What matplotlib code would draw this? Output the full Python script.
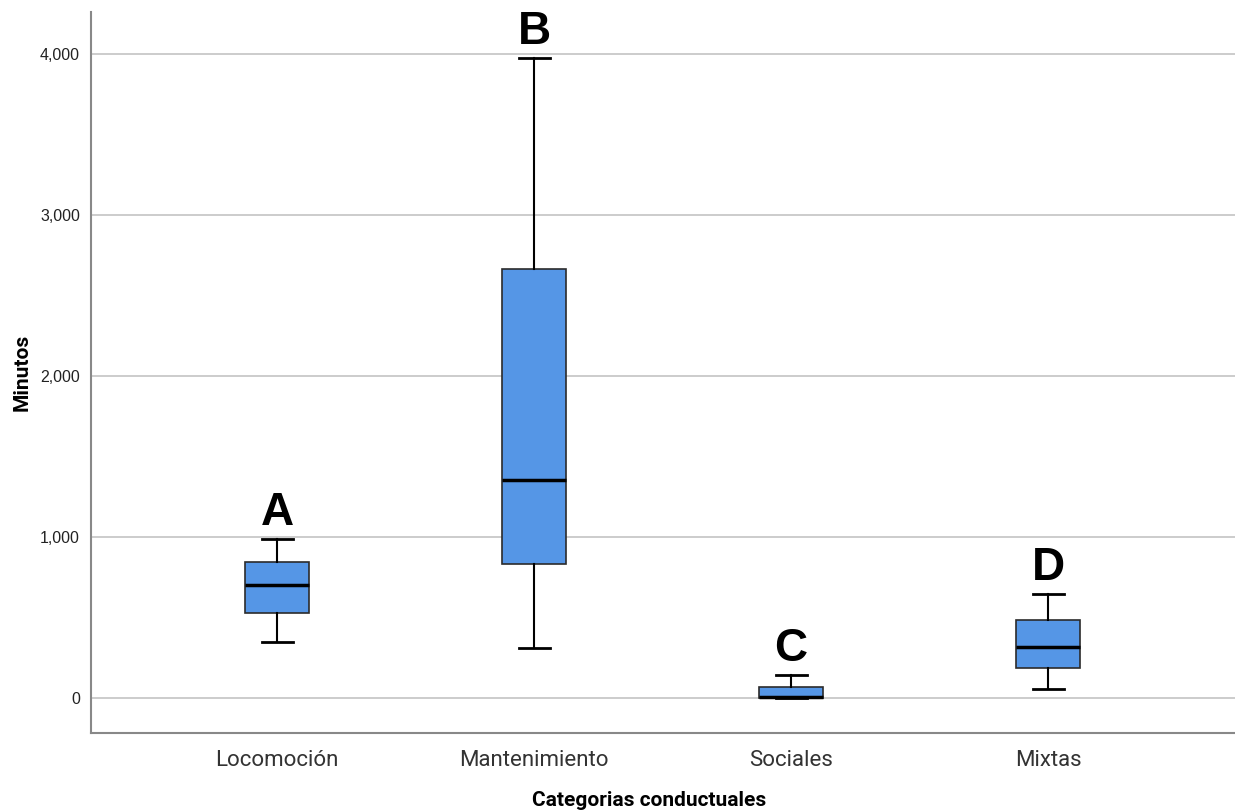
import matplotlib
matplotlib.use("Agg")
import matplotlib.pyplot as plt
from matplotlib.ticker import FuncFormatter

categories = ["Locomoción", "Mantenimiento", "Sociales", "Mixtas"]
whisker_low = [348, 311, 0, 56]
q1 = [529, 834, 0, 187]
median = [703, 1356, 4, 317]
q3 = [846, 2663, 68, 485]
whisker_high = [989, 3975, 143, 647]
letters = ["A", "B", "C", "D"]
yticks = [0, 1000, 2000, 3000, 4000]

fig = plt.figure(figsize=(12.35, 8.11), dpi=100)
ax = fig.add_axes([91/1235, 1-733/811, 1 - 91/1235, (733-12)/811])

stats = []
for i, c in enumerate(categories):
    stats.append(dict(label=c, whislo=whisker_low[i], q1=q1[i], med=median[i],
                      q3=q3[i], whishi=whisker_high[i], fliers=[]))

positions = list(range(len(categories)))
ax.bxp(stats, positions=positions, widths=64/257, patch_artist=True,
       showfliers=False,
       boxprops=dict(facecolor="#5596E6", edgecolor="#2b2b2b", linewidth=1.2),
       medianprops=dict(color="black", linewidth=2.5),
       whiskerprops=dict(color="black", linewidth=1.5),
       capprops=dict(color="black", linewidth=2.0),
       capwidths=31/257, zorder=3)

for i, l in enumerate(letters):
    ax.text(positions[i], whisker_high[i] + 22, l, ha="center", va="bottom",
            fontsize=33, fontweight="bold", family="Liberation Sans", zorder=4)

ax.set_xlim(-186/257, (1235-277)/257)
ax.set_ylim(-218, 4261)
ax.set_yticks(yticks)
ax.yaxis.set_major_formatter(FuncFormatter(lambda v, p: f"{int(v):,}"))
ax.grid(axis="y", color="#c8c8c8", linewidth=1.3, zorder=0)
ax.set_axisbelow(True)
ax.tick_params(axis="y", length=0, labelsize=11.5, pad=8, labelcolor="#222222")
ax.tick_params(axis="x", length=0, labelsize=16, pad=12, labelcolor="#333333")
ax.set_xticks(positions)
ax.set_xticklabels(categories)
for lab in ax.get_yticklabels():
    lab.set_family("Liberation Sans")
for lab in ax.get_xticklabels():
    lab.set_family("Roboto")

for s in ["top", "right"]:
    ax.spines[s].set_visible(False)
for s in ["left", "bottom"]:
    ax.spines[s].set_color("#888888")
    ax.spines[s].set_linewidth(1.5)

ax.set_ylabel("Minutos", fontsize=15, fontweight="bold", family="Roboto")
ax.set_xlabel("Categorias conductuales", fontsize=15, fontweight="bold", family="Roboto")
ax.yaxis.set_label_coords((32-91)/1144, 0.5)
ax.xaxis.set_label_coords((649-91)/1144, -(791-733)/721)

fig.savefig("out.png", dpi=100)
